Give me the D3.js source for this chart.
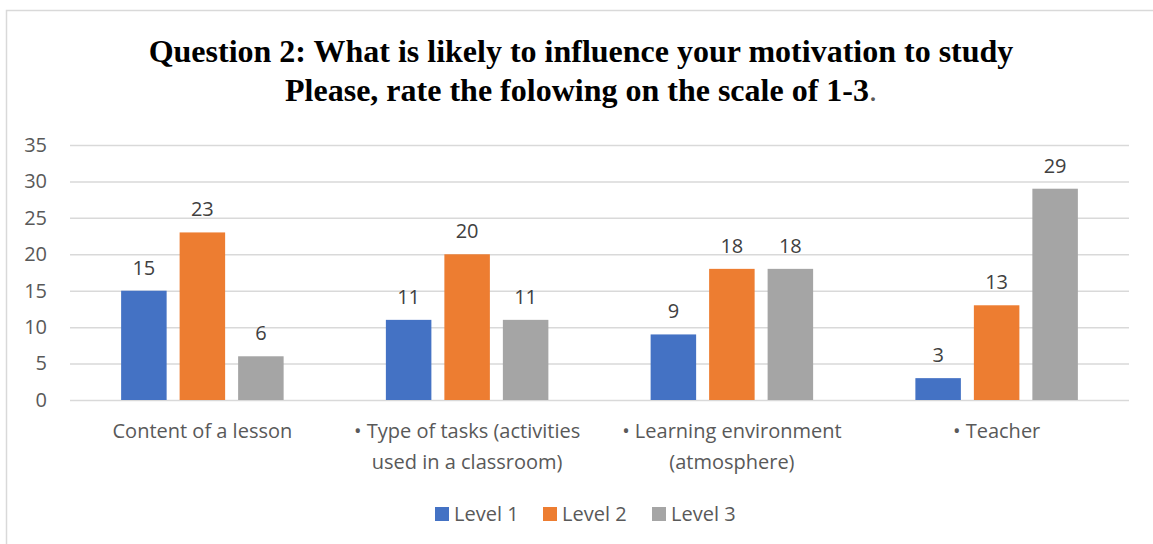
<!DOCTYPE html>
<html>
<head>
<meta charset="utf-8">
<script src="https://cdn.jsdelivr.net/npm/d3@7"></script>
<style>
  html, body { margin: 0; padding: 0; background: #fff; }
  svg { display: block; }
</style>
</head>
<body>
<svg id="chart" width="1153" height="544"></svg>
<script>
// Survey answers: how many respondents rated each factor at each level
const categories = [
  ["Content of a lesson"],
  ["• Type of tasks (activities", "used in a classroom)"],
  ["• Learning environment", "(atmosphere)"],
  ["• Teacher"]
];
const seriesNames = ["Level 1", "Level 2", "Level 3"];
const level1 = [15, 11, 9, 3];
const level2 = [23, 20, 18, 13];
const level3 = [6, 11, 18, 29];
const yTicks = [0, 5, 10, 15, 20, 25, 30, 35];
const colors = ["#4472C4", "#ED7D31", "#A5A5A5"];

const seriesValues = [level1, level2, level3];
const W = 1153, H = 544;
const FONT = "'Open Sans', sans-serif";
const svg = d3.select("#chart");

// chart frame
svg.append("rect")
  .attr("x", 6.5).attr("y", 10.5)
  .attr("width", W + 20).attr("height", H + 20)
  .attr("fill", "#fff").attr("stroke", "#D9D9D9").attr("stroke-width", 1.5);

// title
const title = svg.append("g")
  .attr("font-family", "'Liberation Serif', 'Times New Roman', serif")
  .attr("font-size", 32).attr("font-weight", "bold")
  .attr("fill", "#000").attr("text-anchor", "middle");
title.append("text").attr("x", 581).attr("y", 62)
  .text("Question 2: What is likely to influence your motivation to study");
const t2 = title.append("text").attr("x", 581).attr("y", 101);
t2.append("tspan").text("Please, rate the folowing on the scale of 1-3");
t2.append("tspan").attr("font-weight", "normal").attr("fill", "#595959").text(".");

// plot area
const plotLeft = 70, plotRight = 1129, plotTop = 145, plotBottom = 400;
const y = d3.scaleLinear().domain([0, 35]).range([plotBottom, plotTop]);
const x0 = d3.scaleBand().domain(d3.range(categories.length)).range([plotLeft, plotRight]);
const span = 162.5;
const x1 = d3.scaleBand().domain(d3.range(seriesNames.length))
  .range([x0.bandwidth() / 2 - span / 2, x0.bandwidth() / 2 + span / 2])
  .paddingInner(0.222).paddingOuter(0);

// gridlines and value axis
const yAxis = d3.axisLeft(y).tickValues(yTicks).tickSize(-(plotRight - plotLeft)).tickPadding(23);
const ga = svg.append("g").attr("transform", `translate(${plotLeft},0)`).call(yAxis);
ga.select(".domain").remove();
ga.selectAll(".tick line").attr("stroke", "#D9D9D9").attr("stroke-width", 1.5);
ga.selectAll(".tick text")
  .attr("font-family", FONT).attr("font-size", 20)
  .attr("fill", "#595959");

// bars
const groups = svg.append("g").selectAll("g")
  .data(categories.map((c, i) => i))
  .join("g")
  .attr("transform", i => `translate(${x0(i)},0)`);

groups.selectAll("rect")
  .data(i => seriesValues.map((vals, s) => ({ s, v: vals[i] })))
  .join("rect")
  .attr("x", d => x1(d.s))
  .attr("width", x1.bandwidth())
  .attr("y", d => y(d.v))
  .attr("height", d => y(0) - y(d.v))
  .attr("fill", d => colors[d.s]);

// value labels
groups.selectAll("text.val")
  .data(i => seriesValues.map((vals, s) => ({ s, v: vals[i] })))
  .join("text")
  .attr("class", "val")
  .attr("x", d => x1(d.s) + x1.bandwidth() / 2)
  .attr("y", d => y(d.v) - 16)
  .attr("text-anchor", "middle")
  .attr("font-family", FONT).attr("font-size", 20)
  .attr("fill", "#404040")
  .text(d => d.v);

// category labels
const xAxis = d3.axisBottom(x0).tickSize(0).tickFormat(() => "");
const gx = svg.append("g").attr("transform", `translate(0,${plotBottom})`).call(xAxis);
gx.select(".domain").remove();
gx.selectAll(".tick").each(function(i) {
  const t = d3.select(this).append("text")
    .attr("text-anchor", "middle")
    .attr("font-family", FONT).attr("font-size", 20)
    .attr("fill", "#595959");
  categories[i].forEach((line, k) => {
    t.append("tspan").attr("x", 0).attr("y", 38 + k * 31).text(line);
  });
});

// legend
const legend = svg.append("g");
const lx = d3.scaleOrdinal().domain(seriesNames).range([435, 543, 652]);
seriesNames.forEach((name, s) => {
  const g = legend.append("g").attr("transform", `translate(${lx(name)},507)`);
  g.append("rect").attr("width", 14).attr("height", 14).attr("fill", colors[s]);
  g.append("text").attr("x", 19).attr("y", 14)
    .attr("font-family", FONT).attr("font-size", 20)
    .attr("fill", "#595959").text(name);
});
</script>
</body>
</html>
